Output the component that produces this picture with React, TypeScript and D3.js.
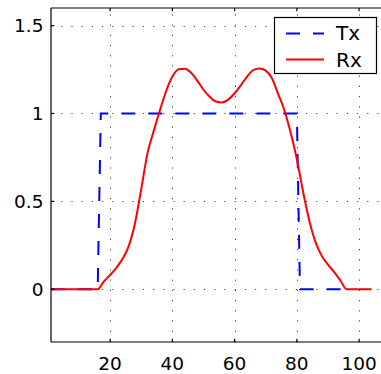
import { useEffect, useRef } from "react";
import * as d3 from "d3";

// Tx: step signal breakpoints (sample index, amplitude)
const txX = [1, 16, 17, 80, 81, 96];
const txY = [0, 0, 1, 1, 0, 0];

// Rx: received (filtered) signal
const rxX = [1, 16, 18, 20, 22, 24, 26, 28, 30, 32, 34, 36, 38, 40, 42, 44, 46, 48, 50, 52, 54, 56, 58, 60, 62, 64, 66, 68, 70, 72, 74, 76, 78, 80, 82, 84, 86, 88, 90, 92, 94, 96, 104];
const rxY = [0, 0, 0.045, 0.081, 0.122, 0.173, 0.247, 0.377, 0.57, 0.773, 0.9, 1.018, 1.128, 1.21, 1.252, 1.255, 1.232, 1.187, 1.135, 1.095, 1.068, 1.063, 1.08, 1.115, 1.16, 1.21, 1.247, 1.256, 1.244, 1.2, 1.11, 1.018, 0.89, 0.74, 0.555, 0.39, 0.268, 0.19, 0.14, 0.098, 0.05, 0, 0];

const xTicks = [20, 40, 60, 80, 100];
const yTicks = [0, 0.5, 1, 1.5];
const yTickLabels = ["0", "0.5", "1", "1.5"];
const seriesNames = ["Tx", "Rx"];

export default function App() {
    const svgRef = useRef<SVGSVGElement | null>(null);

    useEffect(() => {
        const svg = d3.select(svgRef.current);
        svg.selectAll("*").remove();

        const width = 381;
        const height = 374;
        const left = 51, right = 384, top = 8, bottom = 342;
        const font = "DejaVu Sans";

        const x = d3.scaleLinear().domain([1, 108]).range([left, right]);
        const y = d3.scaleLinear().domain([-0.3, 1.6]).range([bottom, top]);

        // white plot background
        svg.append("rect")
            .attr("x", left).attr("y", top)
            .attr("width", right - left).attr("height", bottom - top)
            .attr("fill", "#fff");

        // dotted grid
        const grid = svg.append("g")
            .attr("stroke", "#444")
            .attr("stroke-width", 1)
            .attr("stroke-dasharray", "1.2 9");
        grid.selectAll("line.gx")
            .data(xTicks)
            .join("line")
            .attr("class", "gx")
            .attr("x1", d => Math.round(x(d)) + 0.5).attr("x2", d => Math.round(x(d)) + 0.5)
            .attr("y1", bottom).attr("y2", top);
        grid.selectAll("line.gy")
            .data(yTicks)
            .join("line")
            .attr("class", "gy")
            .attr("y1", d => Math.round(y(d)) + 0.5).attr("y2", d => Math.round(y(d)) + 0.5)
            .attr("x1", left).attr("x2", right);

        // Tx dashed blue
        const txLine = d3.line<number>()
            .x((d, i) => x(txX[i]))
            .y(d => y(d));
        svg.append("path")
            .attr("d", txLine(txY))
            .attr("fill", "none")
            .attr("stroke", "#0000ff")
            .attr("stroke-width", 2)
            .attr("stroke-dasharray", "14 13");

        // Rx solid red
        const rxLine = d3.line<number>()
            .x((d, i) => x(rxX[i]))
            .y(d => y(d))
            .curve(d3.curveMonotoneX);
        svg.append("path")
            .attr("d", rxLine(rxY))
            .attr("fill", "none")
            .attr("stroke", "#ff0000")
            .attr("stroke-width", 2);

        // axes box (right side is outside the view)
        const axis = svg.append("g").attr("stroke", "#000").attr("stroke-width", 1.2);
        axis.append("line").attr("x1", left).attr("x2", right).attr("y1", bottom).attr("y2", bottom);
        axis.append("line").attr("x1", left).attr("x2", right).attr("y1", top).attr("y2", top);
        axis.append("line").attr("x1", left).attr("x2", left).attr("y1", top).attr("y2", bottom);

        // inward tick marks
        const tl = 3.3;
        axis.selectAll("line.tb")
            .data(xTicks)
            .join("line")
            .attr("class", "tb")
            .attr("x1", d => x(d)).attr("x2", d => x(d))
            .attr("y1", bottom).attr("y2", bottom - tl);
        axis.selectAll("line.tt")
            .data(xTicks)
            .join("line")
            .attr("class", "tt")
            .attr("x1", d => x(d)).attr("x2", d => x(d))
            .attr("y1", top).attr("y2", top + tl);
        axis.selectAll("line.tl")
            .data(yTicks)
            .join("line")
            .attr("class", "tl")
            .attr("x1", left).attr("x2", left + tl)
            .attr("y1", d => y(d)).attr("y2", d => y(d));

        // tick labels
        svg.selectAll("text.xl")
            .data(xTicks)
            .join("text")
            .attr("class", "xl")
            .attr("x", d => x(d))
            .attr("y", 370)
            .attr("text-anchor", "middle")
            .style("font-family", font)
            .style("font-size", "18.5px")
            .attr("fill", "#000")
            .text(d => String(d));
        svg.selectAll("text.yl")
            .data(yTicks)
            .join("text")
            .attr("class", "yl")
            .attr("x", 43.5)
            .attr("y", d => y(d))
            .attr("dy", "0.36em")
            .attr("text-anchor", "end")
            .style("font-family", font)
            .style("font-size", "18.5px")
            .attr("fill", "#000")
            .text((d, i) => yTickLabels[i]);

        // legend
        const lg = svg.append("g");
        lg.append("rect")
            .attr("x", 274.5).attr("y", 17.5)
            .attr("width", 102).attr("height", 56)
            .attr("fill", "#fff")
            .attr("stroke", "#000")
            .attr("stroke-width", 1.2);
        const rows = [
            { name: seriesNames[0], color: "#0000ff", dash: "14 13", yy: 33.5, ty: 40 },
            { name: seriesNames[1], color: "#ff0000", dash: null, yy: 59.5, ty: 66.5 },
        ];
        rows.forEach(r => {
            lg.append("line")
                .attr("x1", 286).attr("x2", 324)
                .attr("y1", r.yy).attr("y2", r.yy)
                .attr("stroke", r.color)
                .attr("stroke-width", 2)
                .attr("stroke-dasharray", r.dash);
            lg.append("text")
                .attr("x", 336)
                .attr("y", r.ty)
                .style("font-family", font)
                .style("font-size", "20px")
                .attr("fill", "#000")
                .text(r.name);
        });

        svg.attr("width", width).attr("height", height);
    }, []);

    return (
        <svg
            ref={svgRef}
            width={381}
            height={374}
            style={{ position: "absolute", left: 0, top: 0, background: "#fff", overflow: "hidden" }}
        />
    );
}
